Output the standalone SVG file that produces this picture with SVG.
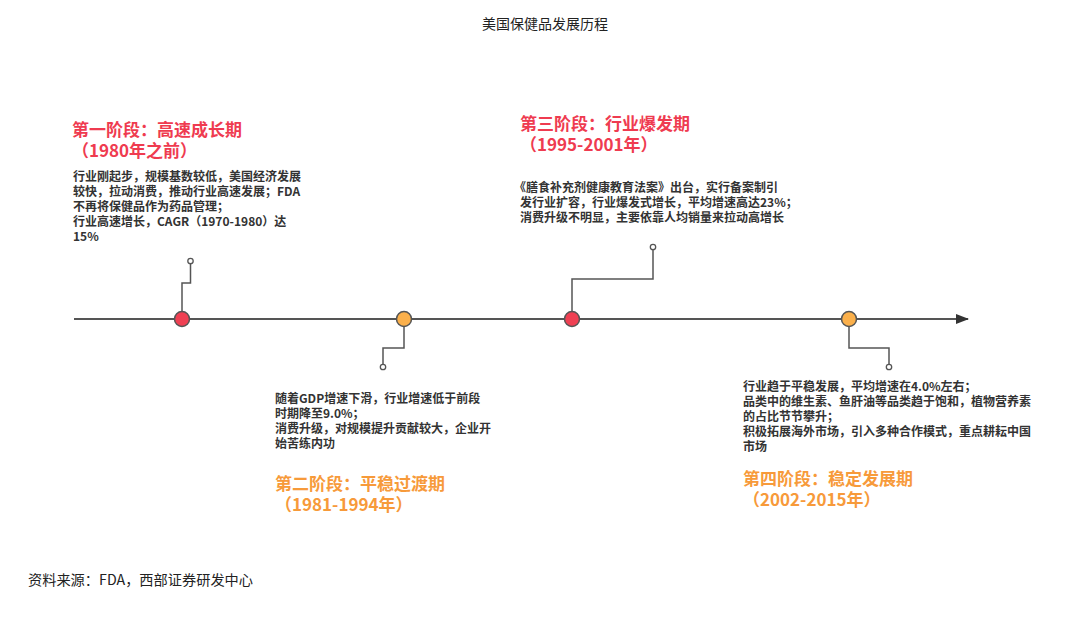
<svg xmlns="http://www.w3.org/2000/svg" width="1080" height="618" viewBox="0 0 1080 618">
<defs>
<style>
text{font-family:"Noto Sans CJK SC","Noto Sans",sans-serif;}
.title{font-size:14px;fill:#222;}
.hr{font-size:17px;font-weight:bold;fill:#ef3b50;}
.ho{font-size:17px;font-weight:bold;fill:#f79a3a;}
.body{font-size:12px;font-weight:bold;fill:#333;}
.src{font-size:14px;fill:#222;}
.conn{fill:none;stroke:#555;stroke-width:1.5;}
.pin{fill:#fff;stroke:#555;stroke-width:1.3;}
.red{fill:#ef4053;stroke:#555;stroke-width:1.5;}
.org{fill:#fbb04b;stroke:#555;stroke-width:1.5;}
</style>
<marker id="arr" markerWidth="14" markerHeight="12" refX="12" refY="5" orient="auto" markerUnits="userSpaceOnUse">
<path d="M0,0 L13,5 L0,10 Z" fill="#333"/>
</marker>
</defs>
<rect width="1080" height="618" fill="#fff"/>
<text class="title" x="545" y="29" text-anchor="middle">美国保健品发展历程</text>

<g id="connectors">
<line x1="74" y1="319" x2="968" y2="319" stroke="#555" stroke-width="2" marker-end="url(#arr)"/>
<polyline class="conn" points="182,319 182,283 190.5,283 190.5,264"/>
<polyline class="conn" points="404,319 404,348 383,348 383,364"/>
<polyline class="conn" points="572,319 572,279 653,279 653,250"/>
<polyline class="conn" points="849,319 849,348 889,348 889,364"/>
</g>

<g id="stage1">
<circle class="pin" cx="190.5" cy="261" r="2.7"/>
<circle class="red" cx="182" cy="319" r="7.5"/>
<text class="hr" x="72" y="136">第一阶段：高速成长期</text>
<text class="hr" x="72" y="157">（1980年之前）</text>
<text class="body" x="73" y="181">行业刚起步，规模基数较低，美国经济发展</text>
<text class="body" x="73" y="196">较快，拉动消费，推动行业高速发展；FDA</text>
<text class="body" x="73" y="211">不再将保健品作为药品管理；</text>
<text class="body" x="73" y="226">行业高速增长，CAGR（1970-1980）达</text>
<text class="body" x="73" y="241">15%</text>
</g>

<g id="stage2">
<circle class="org" cx="404" cy="319" r="7.5"/>
<circle class="pin" cx="383" cy="367" r="2.7"/>
<text class="body" x="275" y="403">随着GDP增速下滑，行业增速低于前段</text>
<text class="body" x="275" y="418">时期降至9.0%；</text>
<text class="body" x="275" y="433">消费升级，对规模提升贡献较大，企业开</text>
<text class="body" x="275" y="448">始苦练内功</text>
<text class="ho" x="275" y="490">第二阶段：平稳过渡期</text>
<text class="ho" x="275" y="511">（1981-1994年）</text>
</g>

<g id="stage3">
<circle class="pin" cx="653" cy="247" r="2.7"/>
<circle class="red" cx="572" cy="319" r="7.5"/>
<text class="hr" x="520" y="130">第三阶段：行业爆发期</text>
<text class="hr" x="520" y="151">（1995-2001年）</text>
<text class="body" x="514" y="192">《膳食补充剂健康教育法案》出台，实行备案制引</text>
<text class="body" x="520" y="207">发行业扩容，行业爆发式增长，平均增速高达23%；</text>
<text class="body" x="520" y="222">消费升级不明显，主要依靠人均销量来拉动高增长</text>
</g>

<g id="stage4">
<circle class="org" cx="849" cy="319" r="7.5"/>
<circle class="pin" cx="889" cy="367" r="2.7"/>
<text class="body" x="743" y="391">行业趋于平稳发展，平均增速在4.0%左右；</text>
<text class="body" x="743" y="406">品类中的维生素、鱼肝油等品类趋于饱和，植物营养素</text>
<text class="body" x="743" y="421">的占比节节攀升；</text>
<text class="body" x="743" y="436">积极拓展海外市场，引入多种合作模式，重点耕耘中国</text>
<text class="body" x="743" y="451">市场</text>
<text class="ho" x="743" y="485">第四阶段：稳定发展期</text>
<text class="ho" x="743" y="506">（2002-2015年）</text>
</g>

<text class="src" x="28" y="585" textLength="225" lengthAdjust="spacingAndGlyphs">资料来源：FDA，西部证券研发中心</text>
</svg>
